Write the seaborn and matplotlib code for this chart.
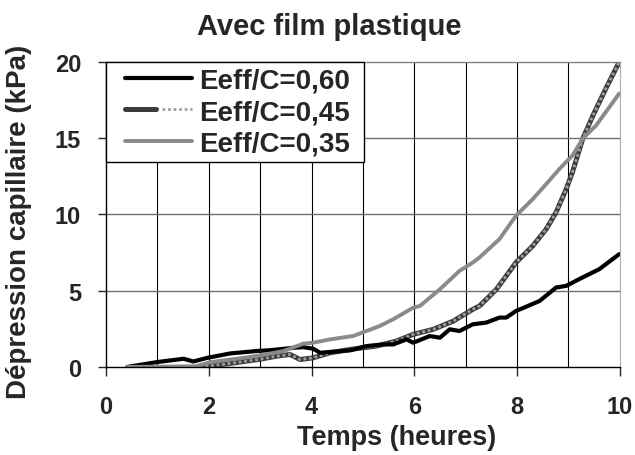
import numpy as np
import pandas as pd
import matplotlib
matplotlib.use("Agg")
import matplotlib.pyplot as plt
import seaborn as sns
from matplotlib.legend_handler import HandlerTuple, HandlerLine2D
from matplotlib.lines import Line2D

sns.set_style("white")
plt.rcParams["font.family"] = ["Liberation Sans", "DejaVu Sans"]
plt.rcParams["font.weight"] = "bold"

# Eeff/C = 0,60
x_060 = [0.41, 0.99, 1.51, 1.70, 1.97, 2.42, 2.94, 3.19, 3.65, 3.84, 4.03, 4.17, 4.30,
         4.75, 5.07, 5.39, 5.59, 5.85, 5.98, 6.30, 6.50, 6.69, 6.88, 7.14, 7.40, 7.66,
         7.79, 7.98, 8.44, 8.76, 8.96, 9.21, 9.60, 9.99]
y_060 = [0.00, 0.32, 0.54, 0.36, 0.60, 0.89, 1.05, 1.10, 1.26, 1.30, 1.20, 0.93, 0.97,
         1.09, 1.37, 1.48, 1.48, 1.81, 1.59, 2.03, 1.92, 2.47, 2.36, 2.80, 2.91, 3.24,
         3.24, 3.67, 4.33, 5.21, 5.32, 5.76, 6.41, 7.40]
# Eeff/C = 0,45
x_045 = [1.83, 2.35, 3.00, 3.32, 3.58, 3.78, 4.03, 4.36, 4.75, 5.26, 5.65, 5.98, 6.37,
         6.76, 7.14, 7.27, 7.47, 7.60, 7.79, 7.98, 8.31, 8.57, 8.76, 8.96, 9.08, 9.28,
         9.48, 9.73, 9.99]
y_045 = [0.00, 0.20, 0.51, 0.71, 0.82, 0.49, 0.60, 0.93, 1.15, 1.37, 1.70, 2.14, 2.47,
         3.01, 3.78, 4.00, 4.66, 5.10, 5.97, 6.85, 7.95, 9.05, 10.14, 11.68, 12.78, 14.97,
         16.50, 18.26, 20.00]
# Eeff/C = 0,35
x_035 = [0.41, 1.75, 2.03, 2.68, 3.00, 3.45, 3.84, 4.03, 4.36, 4.81, 5.07, 5.33, 5.59,
         5.98, 6.11, 6.50, 6.88, 7.14, 7.27, 7.66, 7.98, 8.31, 8.57, 8.83, 9.08, 9.28,
         9.54, 9.99]
y_035 = [0.00, 0.05, 0.32, 0.60, 0.76, 1.04, 1.53, 1.59, 1.81, 2.03, 2.36, 2.69, 3.13,
         3.89, 4.00, 5.10, 6.30, 6.85, 7.18, 8.39, 9.92, 11.02, 12.00, 13.00, 13.87, 14.97,
         15.84, 17.93]

labels = ["Eeff/C=0,60", "Eeff/C=0,45", "Eeff/C=0,35"]

df = pd.concat([
    pd.DataFrame({"t": x_060, "p": y_060, "serie": labels[0]}),
    pd.DataFrame({"t": x_045, "p": y_045, "serie": labels[1]}),
    pd.DataFrame({"t": x_035, "p": y_035, "serie": labels[2]}),
])

fig = plt.figure(figsize=(6.35, 4.56), dpi=100)
ax = fig.add_axes([0.167, 0.193, 0.809, 0.669])

# hatched look for 0,45: dark base + lighter dotted overlay
dark45, light45 = "#3c3c3c", "#a0a0a0"
d45 = df[df.serie == labels[1]]
sns.lineplot(data=d45, x="t", y="p", color=dark45, linewidth=3.6,
             estimator=None, sort=False, ax=ax, legend=False)
ax.plot(d45.t, d45.p, color=light45, linewidth=2.0, linestyle=(0, (1, 1)))
sns.lineplot(data=df[df.serie == labels[0]], x="t", y="p", color="black",
             linewidth=3.0, estimator=None, sort=False, ax=ax, legend=False)
sns.lineplot(data=df[df.serie == labels[2]], x="t", y="p", color="#8a8a8a",
             linewidth=2.8, estimator=None, sort=False, ax=ax, legend=False)

ax.set_xlim(0, 10)
ax.set_ylim(0, 20)
ax.set_xticks(range(0, 11, 2))
ax.set_yticks(range(0, 21, 5))
ax.grid(False)
for v in range(1, 10):
    ax.axvline(v, color="black", linewidth=0.8, zorder=0.5)
for h in (5, 10, 15):
    ax.axhline(h, color="#707070", linewidth=1.0, zorder=0.5)

for s in ("left", "bottom"):
    ax.spines[s].set_color("black")
    ax.spines[s].set_linewidth(1.0)
ax.spines["top"].set_color("#808080")
ax.spines["right"].set_color("#b0b0b0")
ax.spines["top"].set_linewidth(1.0)
ax.spines["right"].set_linewidth(0.8)

ax.tick_params(axis="x", direction="out", length=6.5, width=1,
               pad=14, labelsize=17, bottom=True)
ax.tick_params(axis="y", direction="out", length=6, width=1, pad=12,
               labelsize=17, left=True)
for lab in ax.get_xticklabels() + ax.get_yticklabels():
    lab.set_fontweight("bold")

ax.set_xlabel("Temps (heures)", fontsize=19.5, fontweight="bold")
ax.xaxis.set_label_coords(0.565, -0.188)
ax.set_ylabel("Dépression capillaire (kPa)", fontsize=20, fontweight="bold")
ax.yaxis.set_label_coords(-0.145, 0.48)

fig.text(0.518, 1 - 35 / 456, "Avec film plastique", ha="center", va="baseline",
         fontsize=21, fontweight="bold")

h60 = Line2D([], [], color="black", linewidth=3.0)
h45a = Line2D([], [], color=dark45, linewidth=3.6)
h45b = Line2D([], [], color=light45, linewidth=2.0, linestyle=(0, (1, 1)))
h35 = Line2D([], [], color="#8a8a8a", linewidth=2.8)
leg = ax.legend([h60, (h45a, h45b), h35], labels, loc="upper left",
                bbox_to_anchor=(0, 0, 0.502, 1), mode="expand",
                handler_map={tuple: HandlerTuple(ndivide=None, xpad=0.5),
                             Line2D: HandlerLine2D(xpad=0.5)},
                prop={"size": 20, "weight": "bold"}, frameon=True, fancybox=False,
                borderaxespad=0, borderpad=0.2, handlelength=2.9, handletextpad=0.25,
                labelspacing=0.2)
leg.get_frame().set_edgecolor("black")
leg.get_frame().set_linewidth(1.0)
leg.get_frame().set_alpha(1)

fig.savefig("out.png", dpi=100)
